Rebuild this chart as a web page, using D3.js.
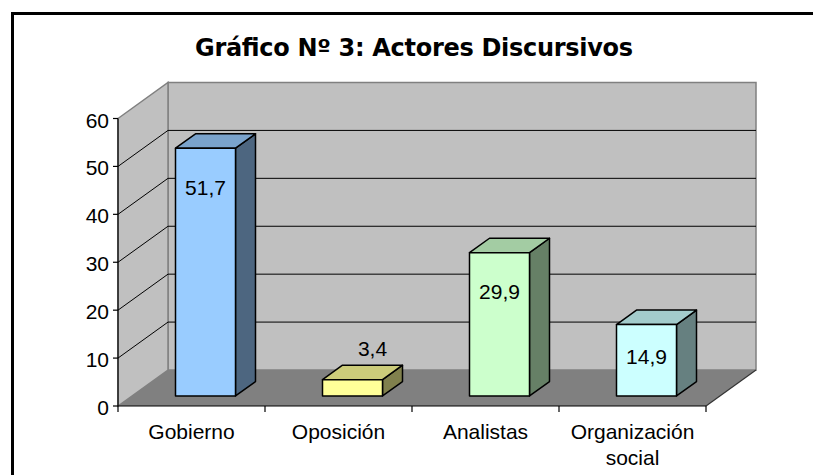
<!DOCTYPE html>
<html>
<head>
<meta charset="utf-8">
<script src="https://cdn.jsdelivr.net/npm/d3@7"></script>
<style>
  body { margin: 0; background: #fff; }
  text { font-family: "Liberation Sans", Arial, sans-serif; }
</style>
</head>
<body>
<svg id="chart" width="813" height="475"></svg>
<script>
const categories = [["Gobierno"], ["Oposición"], ["Analistas"], ["Organización", "social"]];
const values = [51.7, 3.4, 29.9, 14.9];
const valueLabels = ["51,7", "3,4", "29,9", "14,9"];
const barColors = ["#99ccff", "#ffff99", "#ccffcc", "#ccffff"];
const yTicks = [0, 10, 20, 30, 40, 50, 60];

const svg = d3.select("#chart")

// depth offset of the 3d box
const DX = 50, DY = -36
const d0 = 0.28, d1 = 0.68  // bar depth inside the box

const x = d3.scaleBand().domain(d3.range(categories.length)).range([118, 706])
const y = d3.scaleLinear().domain([0, 60]).range([406, 118.5])

const shade = (c, f) => {
    const col = d3.rgb(c)
    return d3.rgb(col.r * f, col.g * f, col.b * f).formatHex()
}
const pt = (px, py, d) => [px + d * DX, py + d * DY]

// frame
svg.append("rect")
    .attr("x", 12.5).attr("y", 13.5)
    .attr("width", 830).attr("height", 500)
    .attr("fill", "none").attr("stroke", "#000").attr("stroke-width", 3)

svg.append("text")
    .attr("x", 414).attr("y", 56)
    .attr("text-anchor", "middle")
    .attr("textLength", 438)
    .attr("lengthAdjust", "spacing")
    .style("font-family", "'DejaVu Sans', sans-serif")
    .style("font-weight", "bold")
    .style("font-size", "24px")
    .text("Gráfico Nº 3: Actores Discursivos")

const x0 = x.range()[0], x1 = x.range()[1]
const yb = y(0), yt = y(60)

// back wall
svg.append("polygon")
    .attr("points", [pt(x0, yt, 1), pt(x1, yt, 1), pt(x1, yb, 1), pt(x0, yb, 1)].join(" "))
    .attr("fill", "#c0c0c0").attr("stroke", "#808080").attr("stroke-width", 1.5)

// side wall
svg.append("polygon")
    .attr("points", [pt(x0, yt, 0), pt(x0, yt, 1), pt(x0, yb, 1), pt(x0, yb, 0)].join(" "))
    .attr("fill", "#c0c0c0").attr("stroke", "#808080").attr("stroke-width", 1.5)

// floor
svg.append("polygon")
    .attr("points", [pt(x0, yb, 0), pt(x0, yb, 1), pt(x1, yb, 1), pt(x1, yb, 0)].join(" "))
    .attr("fill", "#808080")
svg.append("line")
    .attr("x1", x1).attr("y1", yb).attr("x2", pt(x1, yb, 1)[0]).attr("y2", pt(x1, yb, 1)[1])
    .attr("stroke", "#333").attr("stroke-width", 1.2)

// gridlines
const grid = yTicks.filter(t => t > 0 && t < 60)
svg.selectAll(".gback").data(grid).enter().append("line")
    .attr("x1", pt(x0, 0, 1)[0]).attr("x2", pt(x1, 0, 1)[0])
    .attr("y1", d => y(d) + DY).attr("y2", d => y(d) + DY)
    .attr("stroke", "#000").attr("stroke-width", 1)
svg.selectAll(".gside").data(grid).enter().append("line")
    .attr("x1", x0).attr("y1", d => y(d))
    .attr("x2", x0 + DX).attr("y2", d => y(d) + DY)
    .attr("stroke", "#000").attr("stroke-width", 1)

// value axis
svg.append("line")
    .attr("x1", x0).attr("x2", x0).attr("y1", yt).attr("y2", yb)
    .attr("stroke", "#000").attr("stroke-width", 1.2)
svg.selectAll(".ytick").data(yTicks).enter().append("line")
    .attr("x1", x0 - 5).attr("x2", x0)
    .attr("y1", d => y(d)).attr("y2", d => y(d))
    .attr("stroke", "#000").attr("stroke-width", 1.2)
svg.selectAll(".ylab").data(yTicks).enter().append("text")
    .attr("x", x0 - 9).attr("y", d => y(d) + 9)
    .attr("text-anchor", "end")
    .style("font-size", "21px")
    .text(d => d)

// category axis
svg.append("line")
    .attr("x1", x0).attr("x2", x1).attr("y1", yb).attr("y2", yb)
    .attr("stroke", "#000").attr("stroke-width", 1.2)
svg.selectAll(".xtick").data(d3.range(categories.length + 1)).enter().append("line")
    .attr("x1", i => x0 + i * x.step()).attr("x2", i => x0 + i * x.step())
    .attr("y1", yb).attr("y2", yb + 6)
    .attr("stroke", "#000").attr("stroke-width", 1.2)
const xl = svg.selectAll(".xlab").data(categories).enter().append("text")
    .attr("x", (d, i) => x(i) + x.bandwidth() / 2)
    .attr("y", 439)
    .attr("text-anchor", "middle")
    .style("font-size", "21px")
xl.selectAll("tspan").data(d => d).enter().append("tspan")
    .attr("x", function () { return this.parentNode.getAttribute("x") })
    .attr("dy", (d, j) => j === 0 ? 0 : 26)
    .text(d => d)

// bars
const bw = 60
const bars = svg.selectAll(".bar").data(values).enter().append("g").attr("class", "bar")
bars.each(function (v, i) {
    const g = d3.select(this)
    const cx = x(i) + x.bandwidth() / 2
    const l = cx - bw / 2, r = cx + bw / 2
    const top = y(v), bot = y(0)
    const dd = d1 - d0
    const P = (px, py, d) => pt(px, py, d0 + d)
    const col = barColors[i]
    // side
    g.append("polygon")
        .attr("points", [P(r, top, 0), P(r, top, dd), P(r, bot, dd), P(r, bot, 0)].join(" "))
        .attr("fill", shade(col, 0.5)).attr("stroke", "#000").attr("stroke-width", 1.5).attr("stroke-linejoin", "round")
    // top
    g.append("polygon")
        .attr("points", [P(l, top, 0), P(l, top, dd), P(r, top, dd), P(r, top, 0)].join(" "))
        .attr("fill", shade(col, 0.8)).attr("stroke", "#000").attr("stroke-width", 1.5).attr("stroke-linejoin", "round")
    // front
    g.append("polygon")
        .attr("points", [P(l, top, 0), P(r, top, 0), P(r, bot, 0), P(l, bot, 0)].join(" "))
        .attr("fill", col).attr("stroke", "#000").attr("stroke-width", 1.5).attr("stroke-linejoin", "round")

    const ft = P(cx, top, 0), fb = P(cx, bot, 0)
    let lx, ly
    if (fb[1] - ft[1] > 60) {
        lx = ft[0]
        ly = Math.min(ft[1] + 39, fb[1] - 39)
    } else {
        lx = ft[0] + dd * DX
        ly = ft[1] - 31
    }
    g.append("text")
        .attr("x", lx).attr("y", ly + 7.5)
        .attr("text-anchor", "middle")
        .style("font-size", "21px")
        .text(valueLabels[i])
})
</script>
</body>
</html>
